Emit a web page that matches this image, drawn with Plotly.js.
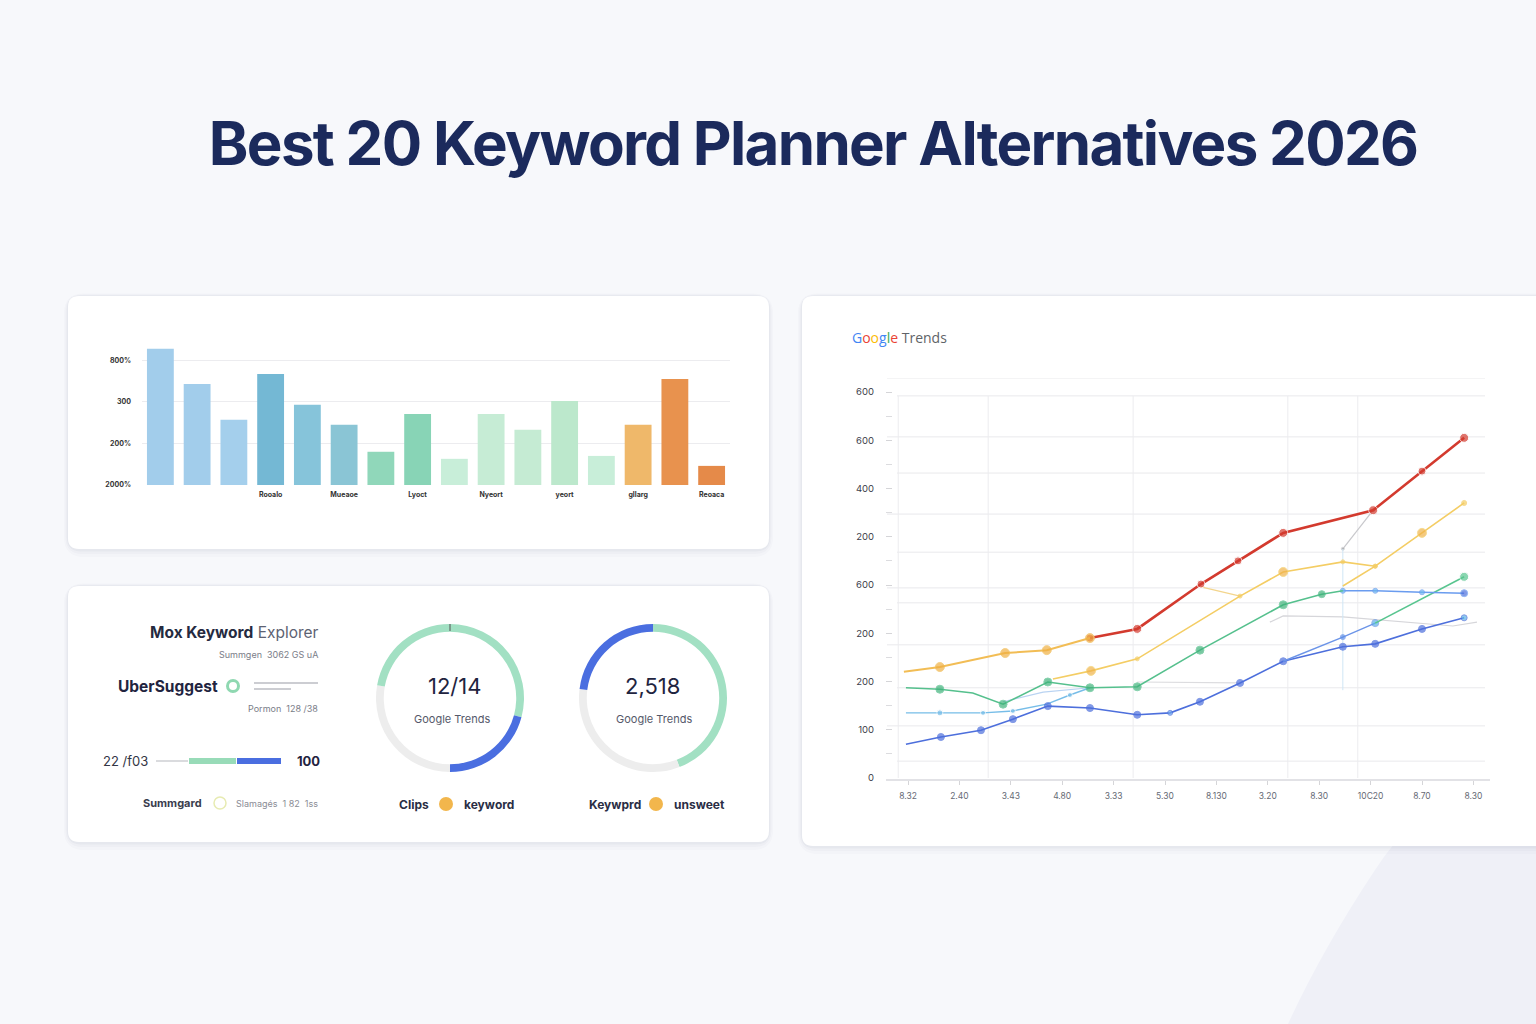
<!DOCTYPE html>
<html><head><meta charset="utf-8">
<script src="https://cdn.plot.ly/plotly-3.0.1.min.js"></script>
<style>html,body{margin:0;padding:0;background:#f7f8fb;}#chart{width:1536px;height:1024px;}</style>
</head><body><div id="chart"></div>
<script>
// ---------------- DATA ----------------
const pageTitle = "Best 20 Keyword Planner Alternatives 2026";

// bar chart (top-left card)
const barValues = [328, 243, 157, 267, 193, 145, 80, 171, 63, 171, 133, 202, 70, 145, 255, 46];
const barTickLabels = ["", "", "", "Rooalo", "", "Mueaoe", "", "Lyoct", "", "Nyeort", "", "yeort", "", "gllarg", "", "Reoaca"];
const barAxisValues = [0, 100, 200, 300];
const barAxisLabels = ["2000%", "200%", "300", "800%"];

// donuts (bottom-left card)
const donut1Values = [105, 75, 100, 80];
const donut2Values = [159, 118, 83];
const donut1Center = "12/14";
const donut2Center = "2,518";
const donutSubtitle = "Google Trends";

// Google Trends line chart
const trendXLabels = ["8.32", "2.40", "3.43", "4.80", "3.33", "5.30", "8.130", "3.20", "8.30", "10C20", "8.70", "8.30"];
const trendYValues = [0, 100, 200, 300, 400, 500, 600, 700, 800];
const trendYLabels = ["0", "100", "200", "200", "600", "200", "400", "600", "600"];

const redX = [3.54, 4.46, 5.70, 6.42, 7.30, 9.05, 10.0, 10.82];
const redY = [290, 309, 402, 450, 508, 555, 636, 705];
const orangeX = [-0.08, 0.62, 1.89, 2.70, 3.54];
const orangeY = [220, 230, 259, 265, 290];
const yellowAX = [2.82, 3.56, 4.46, 6.46, 7.30, 8.46, 9.09];
const yellowAY = [205, 222, 247, 377, 427, 448, 439];
const yellowBX = [8.46, 9.09, 10.0, 10.82];
const yellowBY = [398, 439, 508, 570];
const yellowFaintX = [5.70, 6.46];
const yellowFaintY = [396, 377];
const green1X = [-0.04, 0.62, 1.26, 1.85, 2.72, 3.54, 4.46, 5.68, 7.30, 8.05, 8.46];
const green1Y = [187, 184, 176, 153, 199, 187, 189, 265, 359, 381, 388];
const flatBlueX = [8.46, 9.09, 10.0, 10.82];
const flatBlueY = [388, 388, 385, 383];
const green2X = [9.09, 10.82];
const green2Y = [321, 417];
const blueX = [-0.04, 0.64, 1.42, 2.04, 2.72, 3.54, 4.46, 5.10, 5.68, 6.46, 7.30, 8.46, 9.09, 10.0, 10.82];
const blueY = [70, 85, 99, 122, 149, 145, 131, 135, 158, 197, 242, 272, 278, 309, 332];
const blue2X = [7.30, 8.46, 9.09];
const blue2Y = [242, 292, 321];
const cyanX = [-0.04, 0.62, 1.46, 2.04, 2.70, 3.15, 3.54];
const cyanY = [135, 135, 135, 139, 153, 172, 187];
const faintBlueX = [1.85, 2.63, 3.54];
const faintBlueY = [158, 178, 187];
const gray1X = [4.46, 6.42];
const gray1Y = [199, 197];
const gray2X = [7.04, 7.30, 8.46, 10.60, 11.07];
const gray2Y = [323, 336, 334, 315, 323];
const gray3X = [8.46, 9.05];
const gray3Y = [475, 555];
const vertFaintX = [8.46, 8.46];
const vertFaintY = [182, 475];

// ---------------- STYLE / GEOMETRY ----------------
const W = 1536, H = 1024;
const px = x => x / W, py = y => 1 - y / H;
const barColors = ["#a2cdeb", "#a2cdeb", "#a4cfec", "#74b8d4", "#86c4da", "#8ac5d5", "#90d7ba", "#88d4b6",
  "#c8eed9", "#c6ecd5", "#c5ebd3", "#bce8cc", "#c8eed9", "#efb86a", "#e8924e", "#e58a49"];
const GREEN = "#a2e0c3", BLUE = "#4a6ee0", LIGHT = "#ededed";
const donut1Colors = [GREEN, BLUE, LIGHT, GREEN];
const donut2Colors = [GREEN, LIGHT, BLUE];

// trend chart pixel frame
const tx0 = 886, tx1 = 1490, ty0 = 378, ty1 = 779;
const fx = X => (X - 908) / 51.4;
const fy = Y => (778 - Y) / 0.4825;
const trendGridY = [829, 792, 707, 632, 547, 468, 394, 363, 276, 187, 108, 35];
const trendGridX = [-0.19, 1.56, 4.38, 7.39, 8.75];

function rr(x0, y0, x1, y1, r) {
  const P = (x, y) => px(x).toFixed(5) + "," + py(y).toFixed(5);
  return "M" + P(x0 + r, y0) + " L" + P(x1 - r, y0) + " Q" + P(x1, y0) + " " + P(x1, y0 + r) +
    " L" + P(x1, y1 - r) + " Q" + P(x1, y1) + " " + P(x1 - r, y1) +
    " L" + P(x0 + r, y1) + " Q" + P(x0, y1) + " " + P(x0, y1 - r) +
    " L" + P(x0, y0 + r) + " Q" + P(x0, y0) + " " + P(x0 + r, y0) + " Z";
}

const shapes = [];
// background sweep bottom-right
shapes.push({type: "path", xref: "paper", yref: "paper", layer: "below", line: {width: 0}, fillcolor: "#eff0f7",
  path: "M" + px(1536) + "," + py(725) + " Q" + px(1420) + "," + py(800) + " " + px(1375) + "," + py(870) +
    " Q" + px(1322) + "," + py(950) + " " + px(1288) + "," + py(1024) + " L" + px(1536) + "," + py(1024) + " Z"});
// cards with soft shadows
const cards = [[68, 296, 769, 549], [68, 586, 769, 842], [802, 296, 1560, 846]];
cards.forEach(c => {
  [[8, 0.018], [5, 0.025], [2.5, 0.035]].forEach(([s, a]) => {
    shapes.push({type: "path", xref: "paper", yref: "paper", layer: "below", line: {width: 0},
      fillcolor: "rgba(40,50,90," + a + ")", path: rr(c[0] - s * 0.5, c[1] - s * 0.3, c[2] + s * 0.5, c[3] + s, 12 + s)});
  });
  shapes.push({type: "path", xref: "paper", yref: "paper", layer: "below", line: {width: 0},
    fillcolor: "#ffffff", path: rr(c[0], c[1], c[2], c[3], 11)});
});
// trend chart custom grid
trendGridY.forEach((v, i) => {
  shapes.push({type: "line", xref: "x3", yref: "y3", layer: "between", x0: (i % 2 ? fx(897) : fx(887)), x1: fx(1485),
    y0: v, y1: v, line: {color: "#e9e9ec", width: 1}});
});
trendGridX.forEach(v => {
  shapes.push({type: "line", xref: "x3", yref: "y3", layer: "between", x0: v, x1: v, y0: 0, y1: 792,
    line: {color: "#ececef", width: 1}});
});
// left panel decorations
const lineShape = (x0, y0, x1, y1, color, width) => ({type: "line", xref: "paper", yref: "paper",
  x0: px(x0), y0: py(y0), x1: px(x1), y1: py(y1), line: {color, width}});
const circ = (cx, cy, r, color, width, fill) => ({type: "circle", xref: "paper", yref: "paper",
  x0: px(cx - r), x1: px(cx + r), y0: py(cy + r), y1: py(cy - r), line: {color, width}, fillcolor: fill || "rgba(0,0,0,0)"});
shapes.push(circ(233, 686, 5.5, "#8fd8b1", 3));
shapes.push(lineShape(254, 683, 318, 683, "#9a9ca6", 1.2));
shapes.push(lineShape(254, 689, 291, 689, "#9a9ca6", 1.2));
shapes.push(lineShape(156, 761, 188, 761, "#b5b7bd", 1));
shapes.push(lineShape(189, 761, 236, 761, "#98dbb8", 6));
shapes.push(lineShape(237, 761, 281, 761, "#4a6ee0", 6));
shapes.push(circ(220, 803, 6, "#e7ebb2", 1.5));
shapes.push(circ(446, 804, 7, "#f2b64c", 0, "#f2b64c"));
shapes.push(circ(656, 804, 7, "#f2b64c", 0, "#f2b64c"));
shapes.push(lineShape(450, 624, 450, 631, "#555", 1));

// annotations
const F = "Inter, 'Noto Sans', sans-serif";
const ann = (text, x, y, size, color, xanchor, extra) => Object.assign({text, x: px(x), y: py(y), xref: "paper", yref: "paper",
  showarrow: false, xanchor: xanchor || "center", yanchor: "middle", font: {family: F, size, color}}, extra || {});
const annotations = [
  ann("<b>" + pageTitle + "</b>", 813, 143, 60, "#1b2a5c", "center"),
  ann('<span style="color:#4285F4">G</span><span style="color:#EA4335">o</span><span style="color:#FBBC05">o</span><span style="color:#4285F4">g</span><span style="color:#34A853">l</span><span style="color:#EA4335">e</span><span style="color:#5f6368"> Trends</span>', 850, 337, 14, "#5f6368", "left", {font: {family: "'Open Sans', sans-serif", size: 14, color: "#5f6368"}}),
  ann('<b>Mox Keyword</b> <span style="color:#5d6272">Explorer</span>', 321, 632, 15.5, "#252a40", "right"),
  ann("Summgen  3062 GS uA", 320, 654, 9, "#7a7d88", "right"),
  ann("<b>UberSuggest</b>", 116, 686, 15.5, "#1f2440", "left"),
  ann("Pormon  128 /38", 320, 708, 9, "#7a7d88", "right"),
  ann("22 /f03", 101, 761, 13, "#333645", "left"),
  ann("<b>100</b>", 295, 761, 13, "#1f2440", "left"),
  ann("<b>Summgard</b>", 141, 803, 11, "#3a3d4d", "left"),
  ann("Slamagés  1 82  1ss", 234, 803, 9, "#8a8c95", "left"),
  ann(donut1Center, 454, 686, 22, "#1f2440"),
  ann(donutSubtitle, 452, 719, 11, "#55596a"),
  ann(donut2Center, 652, 686, 22, "#1f2440"),
  ann(donutSubtitle, 654, 719, 11, "#55596a"),
  ann("<b>Clips</b>", 397, 804, 12, "#2a2e45", "left"),
  ann("<b>keyword</b>", 462, 804, 12, "#2a2e45", "left"),
  ann("<b>Keywprd</b>", 587, 804, 12, "#2a2e45", "left"),
  ann("<b>unsweet</b>", 672, 804, 12, "#2a2e45", "left")
];

// ---------------- TRACES ----------------
const traces = [];
traces.push({type: "bar", x: barValues.map((_, i) => i), y: barValues, xaxis: "x", yaxis: "y",
  marker: {color: barColors, line: {width: 0}}, width: 0.73, hoverinfo: "skip"});

const pie = (values, colors, cx, cy, r) => ({type: "pie", values, sort: false, direction: "clockwise", rotation: 0,
  hole: 0.895, textinfo: "none", hoverinfo: "skip", showlegend: false,
  marker: {colors, line: {width: 0}},
  domain: {x: [px(cx - r), px(cx + r)], y: [py(cy + r), py(cy - r)]}});
traces.push(pie(donut1Values, donut1Colors, 450, 698, 74));
traces.push(pie(donut2Values, donut2Colors, 653, 698, 74));

const ln = (x, y, color, width, sizes, mcolor, opacity) => {
  const t = {type: "scatter", mode: sizes ? "lines+markers" : "lines",
    x, y, xaxis: "x3", yaxis: "y3", hoverinfo: "skip", showlegend: false, opacity: opacity || 1,
    line: {color, width}};
  if (sizes) t.marker = {size: sizes, color: mcolor || color};
  return t;
};
traces.push(ln(gray1X, gray1Y, "#dcdcdf", 1.2));
traces.push(ln(gray2X, gray2Y, "#d6d6da", 1.2));
traces.push(ln(gray3X, gray3Y, "#c8c8cc", 1.2, [3, 3], "#999"));
traces.push(ln(vertFaintX, vertFaintY, "#cfe6f5", 1));
traces.push(ln(faintBlueX, faintBlueY, "#b9d3f2", 1.2));
traces.push(ln(cyanX, cyanY, "#76bde8", 1.4, [0, 6, 5, 5, 0, 5, 0]));
traces.push(ln(blueX, blueY, "#4d6fdc", 1.6, [0, 7, 7, 7, 7, 7, 7, 5, 7, 7, 7, 7, 7, 7, 6],
  ["#4d6fdc", "#4d6fdc", "#4d6fdc", "#4d6fdc", "#4d6fdc", "#4d6fdc", "#4d6fdc", "#6aa6ee", "#4d6fdc", "#4d6fdc", "#4d6fdc", "#4d6fdc", "#4d6fdc", "#4d6fdc", "#5cb4e6"]));
traces.push(ln(blue2X, blue2Y, "#6b94e8", 1.4, [0, 5, 7], ["#6b94e8", "#5c8ee8", "#5cb4e6"]));
traces.push(ln(green2X, green2Y, "#58c58f", 1.6, [0, 9]));
traces.push(ln(flatBlueX, flatBlueY, "#6a9cef", 1.6, [5, 5, 5, 7], ["#6cb8ee", "#6cb8ee", "#6cb8ee", "#4d6fdc"]));
traces.push(ln(green1X, green1Y, "#55c08d", 1.6, [0, 8, 0, 8, 8, 8, 8, 8, 8, 7, 0], "#3fb27a"));
traces.push(ln(yellowFaintX, yellowFaintY, "#f3d58c", 1.2));
traces.push(ln(yellowBX, yellowBY, "#f4cd64", 1.6, [0, 4, 9, 5], ["#f4cd64", "#f4cd64", "#f0b34a", "#f4cd64"]));
traces.push(ln(yellowAX, yellowAY, "#f4cd64", 1.6, [0, 9, 4, 4, 9, 4, 4],
  ["#f4cd64", "#f0b34a", "#f4cd64", "#f4cd64", "#f0b34a", "#f4cd64", "#f4cd64"]));
traces.push(ln(redX, redY, "#d33a2e", 2.6, [8, 9, 8, 8, 9, 9, 8, 9]));
traces.push(ln(orangeX, orangeY, "#f2bd55", 2, [0, 9, 9, 9, 9], "#f0b043"));

// ---------------- LAYOUT ----------------
const layout = {
  width: W, height: H, margin: {l: 0, r: 0, t: 0, b: 0},
  paper_bgcolor: "#f7f8fb", plot_bgcolor: "rgba(0,0,0,0)", showlegend: false,
  font: {family: F},
  xaxis: {domain: [px(142), px(730)], range: [-0.5, 15.5], anchor: "y", showgrid: false, zeroline: false, showline: false,
    tickvals: barTickLabels.map((t, i) => t ? i : null).filter(v => v !== null),
    ticktext: barTickLabels.filter(t => t), ticks: "", ticklabelstandoff: 4,
    tickfont: {size: 7, color: "#333", family: F, weight: 700}, fixedrange: true},
  yaxis: {domain: [py(485), py(345)], range: [0, 337], anchor: "x", tickvals: barAxisValues, ticktext: barAxisLabels,
    showgrid: true, gridcolor: "#ececef", gridwidth: 1, zeroline: false, showline: false, ticks: "", ticklabelstandoff: 10,
    tickfont: {size: 7, color: "#333", family: F, weight: 700}, fixedrange: true},
  xaxis3: {domain: [px(tx0), px(tx1)], range: [fx(tx0), fx(tx1)], anchor: "y3", tickvals: trendXLabels.map((_, i) => i),
    ticktext: trendXLabels, showgrid: false, zeroline: false, showline: true, linecolor: "#e2e2e6", linewidth: 1.5,
    ticks: "outside", ticklen: 4, tickcolor: "#d5d5d8", ticklabelstandoff: 4,
    tickfont: {size: 8.5, color: "#666a75", family: F}, fixedrange: true},
  yaxis3: {domain: [py(ty1), py(ty0)], range: [fy(ty1), fy(ty0)], anchor: "x3", tickvals: trendYValues, ticktext: trendYLabels,
    showgrid: false, zeroline: false, showline: false, ticks: "inside", ticklen: 6, tickcolor: "#d5d5d8", ticklabelstandoff: 11,
    minor: {dtick: 50, tick0: 0, ticks: "inside", ticklen: 6, tickcolor: "#dcdcdf", showgrid: false},
    tickfont: {size: 9.5, color: "#3d404c", family: F}, fixedrange: true},
  shapes, annotations
};

Plotly.newPlot("chart", traces, layout, {staticPlot: true, displayModeBar: false}).then(gd => {
  // tighter tracking on the headline, as in the reference
  const t = gd.querySelector('.annotation[data-index="0"] .annotation-text');
  if (t) t.style.letterSpacing = "-1.7px";
});
</script></body></html>
